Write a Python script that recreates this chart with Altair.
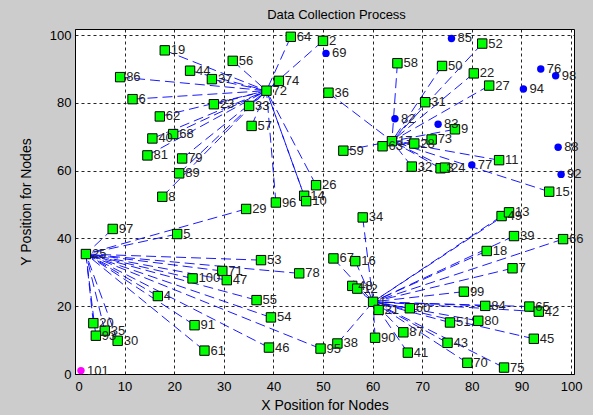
import altair as alt
import pandas as pd

# ---- data ----
node_ids = ["19","86","44","37","6","23","62","40","68","81","79","89","8","56","64","2","74","72","33","57","96","14","10","26",
            "36","58","50","52","22","27","31","9","73","28","17","63","59","32","3","24","11","15",
            "97","5","25","29","53","71","47","100","78","4","55","54","46","95","91","61","20","35","93","30",
            "34","67","16","48","12","1","21","90","38","99","84","65","42","60","51","80","87","43","45","41","70","75","7","18","39","66","49","13",
            "69","85","76","98","94","82","83","77","88","92","101"]
node_x = [18.1,9.1,23.2,27.6,11.6,28.0,17.1,15.6,19.8,14.6,21.6,21.0,17.6,31.8,43.5,50.0,41.1,38.6,35.1,35.6,40.5,46.2,46.6,48.6,
          51.1,65.0,74.0,82.1,80.4,83.5,70.6,76.6,71.9,68.4,63.9,62.0,54.1,67.9,73.7,74.6,85.5,95.6,
          7.6,20.6,2.2,34.5,37.5,29.7,30.6,23.7,45.2,16.7,36.6,39.5,39.1,49.5,24.1,26.1,3.7,6.0,4.2,8.6,
          58.0,52.1,56.5,55.9,56.9,60.1,61.2,60.5,52.9,78.4,82.7,91.6,93.5,67.5,75.6,81.3,66.2,75.1,92.5,67.1,79.1,86.5,88.2,83.0,88.5,98.4,86.0,87.5,
          50.6,75.9,93.9,96.9,90.4,64.5,73.2,80.0,97.4,98.0,1.2]
node_y = [95.5,87.6,89.5,87.0,81.1,79.6,76.0,69.5,70.8,64.5,63.6,59.2,52.3,92.4,99.5,98.3,86.5,83.6,79.1,73.2,50.6,52.6,51.0,55.7,
          83.0,91.7,90.9,97.5,88.7,85.1,80.2,72.2,69.2,68.0,68.7,67.2,65.9,61.2,60.7,60.9,63.1,53.8,
          42.8,41.3,35.4,48.7,33.6,30.4,27.7,28.2,29.7,23.0,21.8,16.7,7.8,7.5,14.4,6.9,15.0,12.8,11.3,9.8,
          46.2,34.1,33.3,26.0,25.2,21.3,18.9,10.7,9.0,24.3,20.1,19.9,18.4,19.4,15.2,15.7,12.3,9.2,10.4,6.3,3.3,1.9,31.2,36.3,40.7,39.8,46.6,47.7,
          94.6,99.0,90.0,88.0,84.1,75.3,73.7,61.7,66.9,58.9,1.0]
node_kind = ["alive"] * 90 + ["dead"] * 10 + ["sink"]
# cluster head that each node sends to ("" = none)
node_head = (["72"] * 17 + [""] + ["72"] * 6
             + ["17"] * 10 + [""] + ["17"] * 7
             + ["25", "25", ""] + ["25"] * 17
             + ["1"] * 5 + [""] + ["1"] * 22
             + [""] * 11)

df = pd.DataFrame({"id": node_ids, "x": node_x, "y": node_y, "kind": node_kind, "head": node_head})
heads = df[["id", "x", "y"]].rename(columns={"id": "head", "x": "hx", "y": "hy"})
links = df[df["head"] != ""].merge(heads, on="head")

XD = [0, 100.6]
YD = [0, 101.8]
ticks = list(range(0, 101, 10))

xs = alt.Scale(domain=XD, nice=False, zero=False)
ys = alt.Scale(domain=YD, nice=False, zero=False)
xax = alt.Axis(values=ticks, grid=True, gridColor="black", gridDash=[3, 3], gridOpacity=0.85,
               tickSize=0, labelPadding=6, labelFontSize=13, labelColor="black", domain=False,
               title="X Position for Nodes", titleFontSize=14, titleFontWeight="normal",
               titleColor="black", titlePadding=5, labelFont="Liberation Sans", titleFont="Liberation Sans")
yax = alt.Axis(values=ticks, grid=True, gridColor="black", gridDash=[3, 3], gridOpacity=0.85,
               tickSize=0, labelPadding=4, labelFontSize=13, labelColor="black", domain=False,
               title="Y Position for Nodes", titleFontSize=14, titleFontWeight="normal",
               titleColor="black", titlePadding=16, labelFont="Liberation Sans", titleFont="Liberation Sans")

base_lines = alt.Chart(links).mark_rule(color="#0000ff", strokeWidth=0.9, strokeDash=[10, 5]).encode(
    x=alt.X("x:Q", scale=xs, axis=xax),
    y=alt.Y("y:Q", scale=ys, axis=yax),
    x2="hx:Q", y2="hy:Q")

alive = alt.Chart(df[df["kind"] == "alive"]).mark_square(
    size=88, color="#00ff00", opacity=1, stroke="black", strokeWidth=1).encode(
    x=alt.X("x:Q", scale=xs), y=alt.Y("y:Q", scale=ys))

dead = alt.Chart(df[df["kind"] == "dead"]).mark_circle(size=55, color="#0000ff", opacity=1).encode(
    x=alt.X("x:Q", scale=xs), y=alt.Y("y:Q", scale=ys))

sink = alt.Chart(df[df["kind"] == "sink"]).mark_circle(size=55, color="#ff00ff", opacity=1).encode(
    x=alt.X("x:Q", scale=xs), y=alt.Y("y:Q", scale=ys))

labels = alt.Chart(df).mark_text(align="left", baseline="middle", dx=6, fontSize=13,
                                 color="#222222", font="Liberation Sans").encode(
    x=alt.X("x:Q", scale=xs), y=alt.Y("y:Q", scale=ys), text="id:N")

chart = alt.layer(base_lines, alive, dead, sink, labels).properties(
    width=499, height=345,
    title=alt.TitleParams("Data Collection Process", fontSize=13, fontWeight="normal",
                          font="Liberation Sans", color="black", anchor="middle", offset=7, dx=12),
    autosize="none",
    padding={"left": 75, "top": 29, "right": 19, "bottom": 41},
    background="#cccccc",
).configure_view(fill="white", stroke="black", strokeWidth=1)

chart.save("out.html", embed_options={"renderer": "svg", "actions": False})
